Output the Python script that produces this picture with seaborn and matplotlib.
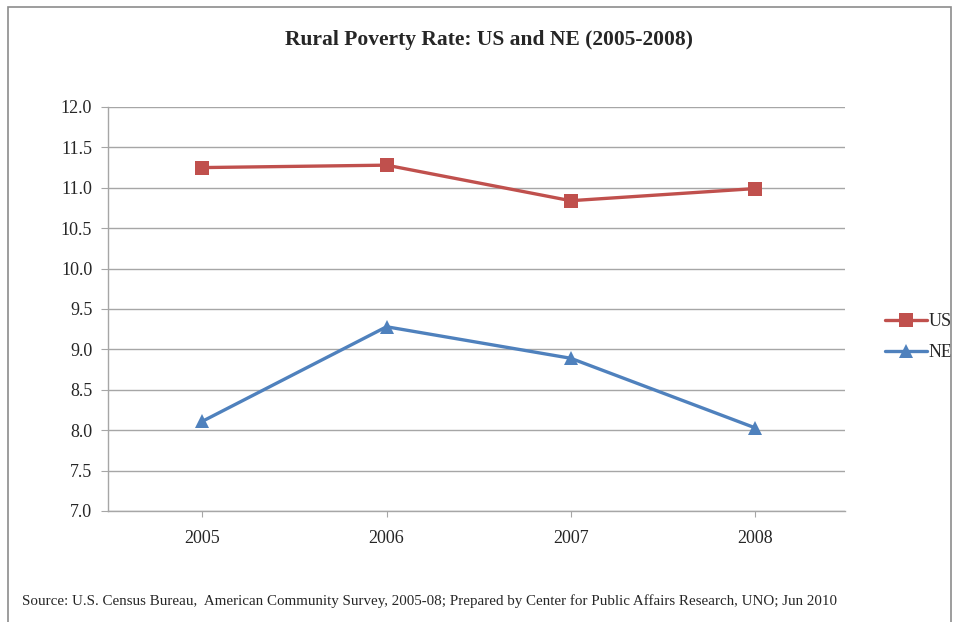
import pandas as pd
import matplotlib.pyplot as plt
import seaborn as sns
from matplotlib.patches import Rectangle

# === Data ===
years = ["2005", "2006", "2007", "2008"]
us_rate = [11.25, 11.28, 10.84, 10.99]
ne_rate = [8.11, 9.28, 8.89, 8.03]
series_names = ["US", "NE"]
y_ticks = [7.0, 7.5, 8.0, 8.5, 9.0, 9.5, 10.0, 10.5, 11.0, 11.5, 12.0]

df = pd.DataFrame({
    "year": years * 2,
    "rate": us_rate + ne_rate,
    "series": ["US"] * len(years) + ["NE"] * len(years),
})

sns.set_style("white")
plt.rcParams["font.family"] = ["Liberation Serif", "DejaVu Serif"]

fig = plt.figure(figsize=(9.56, 6.22), dpi=100)
ax = fig.add_axes([0.1125, 0.1785, 0.7715, 0.6495])

# outer chart frame
fig.patches.append(Rectangle((8 / 956, -0.01), (951 - 8) / 956, 1 - 7 / 622 + 0.01,
                             transform=fig.transFigure, fill=False,
                             edgecolor="#8c8c8c", linewidth=1.2))

palette = {"US": "#C0504D", "NE": "#4F81BD"}
sns.lineplot(data=df, x="year", y="rate", hue="series", style="series",
             hue_order=series_names, style_order=series_names,
             markers={"US": "s", "NE": "^"}, dashes=False, palette=palette,
             linewidth=2.4, markersize=10, markeredgewidth=0, ax=ax)

ax.set_xlim(-0.515, 3.49)
ax.set_ylim(7.0, 12.0)
ax.set_yticks(y_ticks)
ax.set_yticklabels([f"{v:.1f}" for v in y_ticks])
ax.yaxis.grid(True, color="#a6a6a6", linewidth=1)
ax.set_axisbelow(True)
ax.set_xlabel("")
ax.set_ylabel("")

for side in ["top", "right"]:
    ax.spines[side].set_visible(False)
for side in ["left", "bottom"]:
    ax.spines[side].set_color("#a6a6a6")
    ax.spines[side].set_linewidth(1)

ax.tick_params(axis="y", which="major", left=True, length=5, color="#a6a6a6",
               labelsize=13, pad=6)
ax.tick_params(axis="x", which="major", bottom=True, length=4, color="#a6a6a6",
               labelsize=13, pad=10)

fig.text(0.512, 0.935, "Rural Poverty Rate: US and NE (2005-2008)",
         ha="center", va="center", fontsize=15.5, fontweight="bold")

fig.text(22 / 956, 0.022,
         "Source: U.S. Census Bureau,  American Community Survey, 2005-08; Prepared by Center for Public Affairs Research, UNO; Jun 2010",
         ha="left", va="bottom", fontsize=10.8)

leg = ax.legend(loc="center left", bbox_to_anchor=(1.037, 0.43), frameon=False,
                fontsize=13, handlelength=2.3, handletextpad=0.1, labelspacing=0.8,
                borderaxespad=0.3)

plt.savefig("out.png", dpi=100)
plt.close()
